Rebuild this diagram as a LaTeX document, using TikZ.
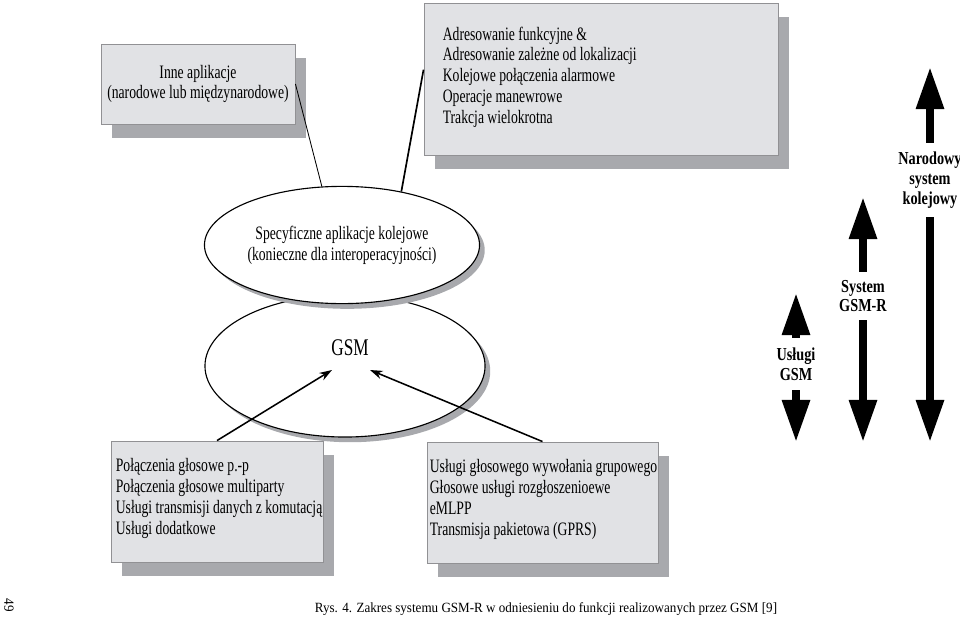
\documentclass[tikz,border=0pt]{standalone}
\usepackage{fontspec}
\setmainfont{Liberation Serif}
\newfontfamily\boxfont[FakeStretch=0.72]{Liberation Serif}
\newfontfamily\sidefont[FakeStretch=0.78]{Liberation Serif}
\newfontfamily\capfont[FakeStretch=0.93]{Liberation Serif}
\usetikzlibrary{arrows.meta,shapes.geometric,shadows}
\definecolor{boxgray}{RGB}{225,226,229}
\definecolor{shadegray}{RGB}{168,169,173}
\definecolor{edgegray}{RGB}{145,145,148}
\begin{document}
\begin{tikzpicture}[x=0.025cm,y=-0.025cm,
  boxshadow/.style={drop shadow={shadow xshift=0.27cm,shadow yshift=-0.34cm,fill=shadegray,opacity=1}},
  infobox/.style={draw=edgegray,fill=boxgray,line width=0.6pt,inner sep=0pt,boxshadow,
    font=\boxfont\fontsize{13.5}{14.8}\selectfont},
  listtext/.style={align=left,inner sep=0pt,font=\boxfont\fontsize{13.5}{14.8}\selectfont},
  appoval/.style={ellipse,draw,fill=white,line width=0.8pt,inner sep=0pt,
    drop shadow={shadow xshift=0.13cm,shadow yshift=-0.13cm,fill=shadegray,opacity=1},
    font=\boxfont\fontsize{13.5}{14.8}\selectfont},
  sidelabel/.style={align=center,inner sep=0pt,font=\sidefont\bfseries\fontsize{13}{14}\selectfont},
  bigarrow/.style={line width=5.5pt,-{Triangle[length=1.05cm,width=0.66cm]}},
  link/.style={-{Stealth[length=9pt,width=6pt]},line width=1.1pt}]
\useasboundingbox (0,0) rectangle (960,619);
\node[infobox,minimum width=4.85cm,minimum height=2cm,align=center] (inne) at (198,84)
  {Inne aplikacje\\(narodowe lub międzynarodowe)};
\node[infobox,minimum width=8.85cm,minimum height=3.8cm] (adr) at (601,79) {};
\node[listtext,anchor=west] (adrtext) at ([shift={(19,-2)}]adr.west)
  {Adresowanie funkcyjne \&\\Adresowanie zależne od lokalizacji\\Kolejowe połączenia alarmowe\\Operacje manewrowe\\Trakcja wielokrotna};
\node[infobox,minimum width=5.3cm,minimum height=3.025cm] (gsmserv) at (217,501.5) {};
\node[listtext,anchor=west] (gsmservtext) at ([shift={(5,-3)}]gsmserv.west)
  {Połączenia głosowe p.-p\\Połączenia głosowe multiparty\\Usługi transmisji danych z komutacją\\Usługi dodatkowe};
\node[infobox,minimum width=5.775cm,minimum height=3.025cm] (rserv) at (542.5,502.5) {};
\node[listtext,anchor=west] (rservtext) at ([shift={(3,-3)}]rserv.west)
  {Usługi głosowego wywołania grupowego\\Głosowe usługi rozgłoszenioewe\\eMLPP\\Transmisja pakietowa (GPRS)};
\node[appoval,minimum width=7cm,minimum height=3.55cm] (gsm) at (345,366) {};
\node[inner sep=0pt,font=\boxfont\fontsize{17}{18}\selectfont] (gsmlabel) at (350,348) {GSM};
\node[appoval,minimum width=6.875cm,minimum height=2.93cm,align=center] (spec) at (342,245)
  {Specyficzne aplikacje kolejowe\\(konieczne dla interoperacyjności)};
\draw[line width=0.6pt] (inne.east) -- (spec.109);
\draw[line width=1.2pt] (adr.177) -- (spec.42);
\coordinate (gsmleft) at (332,370);
\coordinate (gsmright) at (370,370);
\draw[link] (gsmserv.north) -- (gsmleft);
\draw[link] (rserv.north) -- (gsmright);
\node[sidelabel,minimum height=1.3cm] (uslugi) at (796,364) {Usługi\\GSM};
\node[sidelabel,minimum height=1.2cm] (gsmr) at (863,296) {System\\GSM-R};
\node[sidelabel,minimum height=1.85cm] (narodowy) at (930,180) {Narodowy\\system\\kolejowy};
\coordinate (uslugitop) at (796,293);
\coordinate (uslugibot) at (796,442);
\coordinate (gsmrtop) at (863,197);
\coordinate (gsmrbot) at (863,442);
\coordinate (narodowytop) at (930,67);
\coordinate (narodowybot) at (930,442);
\draw[bigarrow] (uslugi.north) -- (uslugitop);
\draw[bigarrow] (uslugi.south) -- (uslugibot);
\draw[bigarrow] (gsmr.north) -- (gsmrtop);
\draw[bigarrow] (gsmr.south) -- (gsmrbot);
\draw[bigarrow] (narodowy.north) -- (narodowytop);
\draw[bigarrow] (narodowy.south) -- (narodowybot);
\node[font=\capfont\fontsize{10}{11}\selectfont] (caption) at (546,609)
  {Rys. 4. Zakres systemu GSM-R w odniesieniu do funkcji realizowanych przez GSM [9]};
\node[rotate=-90,font=\capfont\fontsize{10}{11}\selectfont] (pagenum) at (9,605) {49};
\end{tikzpicture}
\end{document}
